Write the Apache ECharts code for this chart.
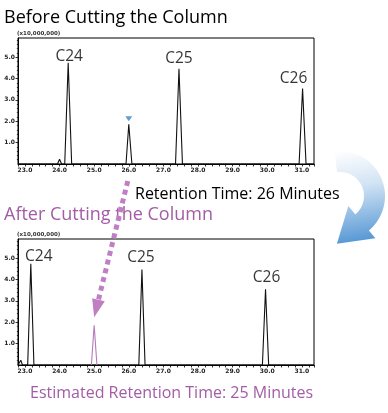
<!DOCTYPE html>
<html>
<head>
<meta charset="utf-8">
<script src="https://cdn.jsdelivr.net/npm/echarts@6/dist/echarts.min.js"></script>
<style>html,body{margin:0;padding:0;background:#fff;}#c{width:388px;height:413px;}</style>
</head>
<body>
<div id="c"></div>
<script>
// ---- data ----
const xTickValues = [23, 24, 25, 26, 27, 28, 29, 30, 31];
const yTickValues = [1, 2, 3, 4, 5];

// Before cutting the column (black trace)
const beforeTime   = [22.8, 23.94, 24.0, 24.06, 24.15, 24.25, 24.35, 25.92, 26.0, 26.09, 27.35, 27.45, 27.55, 30.92, 31.02, 31.12, 31.35];
const beforeSignal = [0,    0,     0.22, 0,     0,     4.74,  0,     0,     1.86, 0,     0,     4.46,  0,     0,     3.53,  0,     0];

// After cutting the column (black trace)
const afterTime   = [22.8, 22.83, 22.88, 22.93, 23.08, 23.17, 23.26, 26.29, 26.38, 26.47, 29.86, 29.95, 30.04, 31.35];
const afterSignal = [0,    0,     0.22,  0,     0,     4.74,  0,     0,     4.47,  0,     0,     3.55,  0,     0];

// Estimated peak (purple)
const estTime   = [24.92, 25.0, 25.08];
const estSignal = [0,     1.86, 0];

// Peak labels
const peakNames        = ['C24', 'C25', 'C26'];
const beforePeakTime   = [24.25, 27.45, 31.02];
const beforePeakHeight = [4.74, 4.46, 3.53];
const afterPeakTime    = [23.17, 26.38, 29.95];
const afterPeakHeight  = [4.74, 4.47, 3.55];

// Marker above the 26-minute peak
const markerTime = 26.0;
const markerHeight = 2.12;

// ---- chart ----
const chart = echarts.init(document.getElementById('c'), null, {renderer: 'canvas'});
const black = '#111';
const purple = '#a35ca6';

function xAxisDef(gi) {
  return {
    type: 'value', gridIndex: gi, min: 22.8, max: 31.35, interval: 0.2,
    axisLine: {show: true, onZero: false, lineStyle: {color: '#000', width: 1}},
    axisTick: {show: true, inside: false, length: 2.5, lineStyle: {color: '#000', width: 0.8}},
    axisLabel: {customValues: xTickValues, formatter: v => v.toFixed(1), fontSize: 6, fontWeight: 'bold', color: '#222', margin: 3, fontFamily: 'DejaVu Sans'},
    splitLine: {show: false}
  };
}
function yAxisDef(gi) {
  return {
    type: 'value', gridIndex: gi, min: 0, max: 5.9, interval: 1,
    axisLine: {show: true, lineStyle: {color: '#000', width: 1}},
    axisTick: {show: true, customValues: yTickValues, inside: false, length: 2.5, lineStyle: {color: '#000', width: 0.8}},
    minorTick: {show: true, splitNumber: 5, length: 1.2, lineStyle: {color: '#000', width: 0.6}},
    axisLabel: {customValues: yTickValues, formatter: v => v.toFixed(1), fontSize: 6, fontWeight: 'bold', color: '#222', margin: 3, fontFamily: 'DejaVu Sans'},
    splitLine: {show: false}
  };
}
function zip(a, b) { return a.map((v, i) => [v, b[i]]); }
function labelData(times, heights, offsets) {
  return times.map((t, i) => ({value: [t, heights[i]], name: peakNames[i], label: {offset: offsets[i]}}));
}
function labelSeries(xi, data) {
  return {
    type: 'scatter', xAxisIndex: xi, yAxisIndex: xi, symbolSize: 0, silent: true,
    data: data,
    label: {show: true, position: 'top', distance: 1, formatter: p => p.name, fontSize: 15.5, fontWeight: 500, color: '#000', fontFamily: 'Open Sans'},
    z: 5
  };
}

const option = {
  animation: false,
  backgroundColor: '#fff',
  grid: [
    {left: 18, top: 38, width: 296, height: 126, show: true, borderColor: '#000', borderWidth: 1, backgroundColor: 'transparent'},
    {left: 18, top: 239, width: 296, height: 126, show: true, borderColor: '#000', borderWidth: 1, backgroundColor: 'transparent'}
  ],
  xAxis: [xAxisDef(0), xAxisDef(1)],
  yAxis: [yAxisDef(0), yAxisDef(1)],
  series: [
    {type: 'line', xAxisIndex: 0, yAxisIndex: 0, data: zip(beforeTime, beforeSignal), showSymbol: false, lineStyle: {color: black, width: 1.1}, silent: true},
    {type: 'line', xAxisIndex: 1, yAxisIndex: 1, data: zip(afterTime, afterSignal), showSymbol: false, lineStyle: {color: black, width: 1.1}, silent: true},
    {type: 'line', xAxisIndex: 1, yAxisIndex: 1, data: zip(estTime, estSignal), showSymbol: false, lineStyle: {color: '#b57ab8', width: 1.1}, silent: true, z: 4},
    {type: 'scatter', xAxisIndex: 0, yAxisIndex: 0, data: [[markerTime, markerHeight]], symbol: 'triangle', symbolRotate: 180, symbolSize: [7, 5], itemStyle: {color: '#3d83c4'}, silent: true},
    labelSeries(0, labelData(beforePeakTime, beforePeakHeight, [[1, 3], [0, -1], [-9, -1]])),
    labelSeries(1, labelData(afterPeakTime, afterPeakHeight, [[8, 2], [-1, -3], [1, -3]]))
  ]
};
chart.setOption(option);

// ---- decorations ----
const p26 = chart.convertToPixel({xAxisIndex: 0, yAxisIndex: 0}, [26.0, 0]);
const p25 = chart.convertToPixel({xAxisIndex: 1, yAxisIndex: 1}, [25.0, 1.86]);
const ax0 = p26[0] - 1, ay0 = 181;
const tipX = p25[0], tipY = p25[1] - 8;
const dx = tipX - ax0, dy = tipY - ay0, len = Math.hypot(dx, dy);
const ux = dx / len, uy = dy / len;
const headLen = 18, headHalf = 6.5;
const bx = tipX - ux * headLen, by = tipY - uy * headLen;

// blue curved arrow (outline polygon)
const cx = 340, cy = 196, R = 45, r = 24;
const a0 = -97 * Math.PI / 180, a1 = 50 * Math.PI / 180;
const P = (rad, a) => [cx + rad * Math.cos(a), cy + rad * Math.sin(a)];
const arrowPts = [];
const N = 40;
for (let k = 0; k <= N; k++) arrowPts.push(P(R, a0 + (a1 - a0) * k / N));
const wo = P(R + 10, a1), wi = P(r - 11, a1);
const mid = P((R + r) / 2, a1);
const tan = [-Math.sin(a1), Math.cos(a1)];
const tip = [mid[0] + tan[0] * 33, mid[1] + tan[1] * 33];
arrowPts.push(wo, tip, wi);
for (let k = N; k >= 0; k--) arrowPts.push(P(r, a0 + (a1 - a0) * k / N));

const txt = (x, y, s, size, color, font, weight) => ({
  type: 'text', x: x, y: y, silent: true,
  style: {text: s, fontSize: size, fill: color, fontFamily: font || 'Open Sans', fontWeight: weight || 'normal', textVerticalAlign: 'middle'}
});

chart.setOption({
  graphic: [
    txt(4, 18, 'Before Cutting the Column', 18, '#000'),
    txt(17, 34, '(x10,000,000)', 5.5, '#333', 'DejaVu Sans', 'bold'),
    txt(17, 235, '(x10,000,000)', 5.5, '#333', 'DejaVu Sans', 'bold'),
    txt(135, 194, 'Retention Time: 26 Minutes', 16, '#000'),
    txt(4, 215, 'After Cutting the Column', 18, purple),
    txt(30, 393, 'Estimated Retention Time: 25 Minutes', 16, purple),
    {type: 'line', silent: true, z: 10, shape: {x1: ax0, y1: ay0, x2: bx, y2: by},
     style: {stroke: '#c07fc4', lineWidth: 5, lineDash: [5, 4], lineCap: 'butt'}},
    {type: 'polygon', silent: true, z: 10, shape: {points: [[tipX, tipY], [bx - uy * headHalf, by + ux * headHalf], [bx + uy * headHalf, by - ux * headHalf]]},
     style: {fill: '#c07fc4'}},
    {type: 'polygon', silent: true, z: 10, shape: {points: arrowPts},
     style: {fill: {type: 'linear', x: 0, y: 0, x2: 0.3, y2: 1, global: false, colorStops: [
       {offset: 0, color: '#ffffff'}, {offset: 0.4, color: '#d3e4f4'}, {offset: 1, color: '#5597d4'}]}}}
  ]
});
</script>
</body>
</html>
